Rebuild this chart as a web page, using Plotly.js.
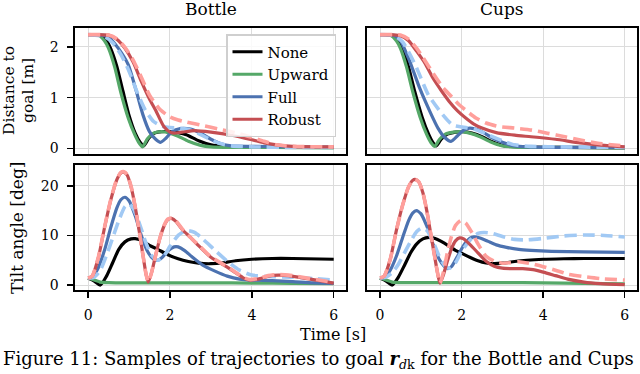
<!DOCTYPE html>
<html>
<head>
<meta charset="utf-8">
<script src="https://cdn.plot.ly/plotly-3.0.1.min.js"></script>
<style>
html,body{margin:0;padding:0;background:#fff;overflow:hidden;}
#chart{width:640px;height:374px;}
</style>
</head>
<body>
<div id="chart"></div>
<script>
// ---------- labels ----------
const seriesNames = ["None", "Upward", "Full", "Robust"];
const panelTitles = ["Bottle", "Cups"];
const xTickVals = [0, 2, 4, 6];
const distTickVals = [0, 1, 2];
const tiltTickVals = [0, 10, 20];

// ---------- Bottle: distance to goal [m] ----------
const bdNoneT = [0,0.3,0.45,0.55,0.7,0.85,1.0,1.15,1.27,1.36,1.48,1.62,1.8,2.0,2.2,2.4,2.7,3.0,3.3,4,6];
const bdNoneY = [2.24,2.23,2.12,1.97,1.62,1.13,0.65,0.3,0.12,0.05,0.2,0.3,0.33,0.33,0.31,0.27,0.15,0.07,0.04,0.03,0.02];
const bdUpT = [0,0.25,0.4,0.5,0.65,0.8,0.98,1.14,1.25,1.33,1.45,1.6,1.8,2.0,2.2,2.45,2.75,3.0,3.5,4.5,6];
const bdUpY = [2.24,2.23,2.12,1.97,1.6,1.1,0.6,0.27,0.1,0.03,0.19,0.3,0.33,0.3,0.24,0.14,0.06,0.03,0.02,0.02,0.01];
const bdFullT = [0,0.4,0.55,0.74,0.98,1.18,1.34,1.5,1.65,1.77,1.9,2.05,2.25,2.5,2.75,3.0,3.25,3.5,4,5,6];
const bdFullY = [2.24,2.22,2.15,1.97,1.65,1.12,0.66,0.33,0.18,0.12,0.2,0.33,0.39,0.38,0.3,0.18,0.09,0.05,0.04,0.03,0.02];
const bdFullDashT = [0,0.4,0.6,0.8,1.0,1.2,1.4,1.6,1.8,2.0,2.2,2.4,2.6,2.8,3.0,3.2,3.5,4,5,6];
const bdFullDashY = [2.24,2.2,2.08,1.85,1.52,1.1,0.75,0.53,0.44,0.41,0.4,0.38,0.33,0.25,0.17,0.1,0.05,0.03,0.02,0.02];
const bdRobT = [0,0.5,0.7,0.9,1.1,1.3,1.5,1.65,1.85,2.0,2.1,2.3,2.6,3.0,3.5,4.0,4.3,4.6,5,6];
const bdRobY = [2.24,2.23,2.15,1.97,1.7,1.32,0.97,0.75,0.43,0.32,0.3,0.32,0.35,0.32,0.26,0.17,0.11,0.07,0.04,0.03];
const bdRobDashT = [0,0.5,0.7,0.9,1.1,1.3,1.5,1.75,2.0,2.2,2.4,2.8,3.2,3.6,4.0,4.3,4.6,5,6];
const bdRobDashY = [2.24,2.23,2.16,1.99,1.74,1.4,1.05,0.77,0.62,0.56,0.52,0.45,0.38,0.31,0.22,0.14,0.07,0.04,0.03];

// ---------- Cups: distance to goal [m] ----------
const cdNoneT = [0,0.3,0.45,0.55,0.7,0.85,1.03,1.19,1.3,1.38,1.5,1.65,1.85,2.05,2.25,2.5,2.75,3.05,3.5,4.5,6];
const cdNoneY = [2.24,2.23,2.12,1.97,1.6,1.12,0.62,0.28,0.11,0.05,0.18,0.28,0.32,0.33,0.3,0.23,0.13,0.05,0.03,0.02,0.01];
const cdUpT = [0,0.25,0.4,0.5,0.65,0.8,0.98,1.14,1.25,1.34,1.46,1.6,1.8,2.0,2.2,2.45,2.7,3.0,3.5,4.5,6];
const cdUpY = [2.24,2.23,2.12,1.97,1.6,1.12,0.62,0.28,0.11,0.04,0.18,0.28,0.32,0.33,0.3,0.23,0.13,0.05,0.02,0.02,0.01];
const cdFullT = [0,0.35,0.5,0.73,0.97,1.22,1.42,1.58,1.74,1.9,2.05,2.2,2.45,2.7,3.0,3.3,3.6,4.5,6];
const cdFullY = [2.24,2.22,2.12,1.71,1.19,0.73,0.4,0.22,0.14,0.25,0.36,0.4,0.35,0.23,0.12,0.05,0.03,0.02,0.02];
const cdFullDashT = [0,0.35,0.55,0.7,0.9,1.18,1.54,1.78,2.02,2.3,2.67,3.0,3.3,3.7,4.5,6];
const cdFullDashY = [2.24,2.22,2.1,1.9,1.58,1.06,0.66,0.46,0.42,0.38,0.26,0.15,0.07,0.04,0.03,0.02];
const cdRobT = [0,0.5,0.7,0.9,1.1,1.3,1.5,1.7,1.9,2.1,2.3,2.5,2.85,3.3,3.7,4.3,4.9,5.5,6];
const cdRobY = [2.24,2.22,2.12,1.91,1.68,1.38,1.14,0.92,0.74,0.6,0.48,0.4,0.31,0.26,0.23,0.18,0.11,0.06,0.03];
const cdRobDashT = [0,0.5,0.7,0.9,1.06,1.3,1.55,1.75,1.94,2.15,2.35,2.6,2.92,3.3,3.72,4.1,4.53,5.0,5.34,6];
const cdRobDashY = [2.24,2.23,2.15,1.97,1.78,1.48,1.19,1.02,0.86,0.72,0.6,0.5,0.43,0.4,0.36,0.3,0.23,0.15,0.1,0.05];

// ---------- Bottle: tilt angle [deg] ----------
const btNoneT = [0,0.15,0.3,0.45,0.6,0.75,0.9,1.05,1.15,1.3,1.5,1.7,1.95,2.2,2.45,2.7,3.0,3.3,3.6,4.0,4.5,5,6];
const btNoneY = [1.4,0.8,0.0,1.8,4.5,7.2,8.7,9.3,9.35,9.0,8.0,7.2,6.1,5.3,4.75,4.4,4.3,4.5,4.9,5.2,5.35,5.35,5.2];
const btUpT = [0,0.15,0.3,0.5,1,2,3,4,5,6];
const btUpY = [1.4,1.0,0.6,0.5,0.45,0.45,0.45,0.4,0.35,0.3];
const btFullT = [0,0.1,0.25,0.4,0.55,0.7,0.8,0.9,1.0,1.15,1.3,1.45,1.6,1.7,1.8,1.95,2.1,2.2,2.35,2.55,2.8,3.1,3.4,3.7,4.0,4.5,5,5.5,6];
const btFullY = [1.4,1.6,3.5,7.0,11.5,15.5,17.2,17.7,17.0,14.0,10.0,6.8,5.2,5.0,5.5,6.9,7.7,7.7,7.0,5.6,4.0,2.8,1.8,1.2,1.0,0.9,0.7,0.45,0.35];
const btFullDashT = [0,0.15,0.3,0.45,0.6,0.75,0.9,1.0,1.1,1.25,1.4,1.55,1.7,1.85,2.0,2.2,2.4,2.6,2.8,3.1,3.4,3.7,4.0,4.5,5,5.5,6];
const btFullDashY = [1.4,1.6,3.0,6.0,9.5,13.0,15.8,16.3,15.5,12.5,8.8,6.0,5.0,5.8,7.8,10.0,11.0,10.6,9.3,7.0,4.8,3.0,2.0,1.7,1.6,1.3,1.0];
const btRobT = [0,0.1,0.25,0.4,0.55,0.7,0.8,0.86,0.95,1.05,1.15,1.25,1.35,1.42,1.47,1.55,1.65,1.75,1.85,1.95,2.05,2.15,2.3,2.5,2.73,3.0,3.38,3.6,3.8,3.95,4.2,4.4,4.65,4.9,5.2,5.5,6];
const btRobY = [1.4,1.8,5.5,11.5,17.0,21.2,22.6,22.8,22.2,19.8,15.8,10.8,5.5,2.0,0.6,2.5,6.0,9.3,11.8,13.2,13.4,12.8,11.2,9.6,7.7,5.6,3.7,2.5,1.4,1.0,1.3,1.8,2.0,1.9,1.5,1.1,0.4];
const btRobDashT = [0,0.1,0.25,0.4,0.55,0.7,0.8,0.86,0.95,1.05,1.15,1.25,1.35,1.42,1.47,1.55,1.65,1.75,1.85,1.95,2.05,2.15,2.3,2.5,2.73,3.0,3.38,3.6,3.8,3.95,4.2,4.4,4.65,4.9,5.2,5.5,6];
const btRobDashY = [1.4,1.8,5.6,11.6,17.1,21.3,22.7,22.9,22.3,19.9,15.8,10.8,5.5,2.0,0.6,2.5,6.0,9.4,11.9,13.3,13.5,12.9,11.3,9.6,7.8,5.7,3.8,2.6,1.5,1.1,1.4,1.9,2.1,2.0,1.6,1.2,0.5];

// ---------- Cups: tilt angle [deg] ----------
const ctNoneT = [0,0.15,0.3,0.45,0.6,0.75,0.9,1.05,1.2,1.35,1.5,1.7,1.85,2.0,2.2,2.4,2.6,2.8,3.0,3.3,3.6,4.0,4.5,5,6];
const ctNoneY = [1.4,0.8,0.0,1.6,4.0,6.5,8.3,9.3,9.6,9.4,8.8,7.8,7.0,6.4,5.6,4.9,4.45,4.3,4.4,4.75,5.0,5.2,5.3,5.35,5.35];
const ctUpT = [0,0.15,0.3,0.5,1,2,3,4,5,6];
const ctUpY = [1.4,1.0,0.6,0.5,0.5,0.5,0.5,0.45,0.35,0.25];
const ctFullT = [0,0.1,0.25,0.4,0.55,0.7,0.8,0.89,1.0,1.15,1.3,1.45,1.57,1.66,1.75,1.9,2.05,2.2,2.3,2.45,2.65,2.85,3.1,3.4,3.7,4.2,5,6];
const ctFullY = [1.4,1.5,3.0,5.8,9.5,13.0,14.5,15.0,14.4,11.8,8.2,5.2,3.8,3.3,3.7,5.8,8.0,9.4,9.7,9.5,8.8,8.1,7.6,7.2,7.0,6.8,6.7,6.6];
const ctFullDashT = [0,0.15,0.3,0.45,0.6,0.75,0.9,1.02,1.15,1.3,1.45,1.58,1.7,1.85,2.0,2.2,2.4,2.55,2.75,3.0,3.3,3.6,4.0,4.5,5.0,5.5,6];
const ctFullDashY = [1.4,1.6,2.5,4.2,6.5,8.8,10.8,11.5,11.0,8.8,5.8,4.0,3.4,4.5,6.8,9.0,10.4,10.6,10.4,9.8,9.2,9.1,9.4,9.9,10.1,10.0,9.7];
const ctRobT = [0,0.1,0.25,0.4,0.55,0.7,0.8,0.86,0.95,1.05,1.15,1.25,1.35,1.42,1.47,1.55,1.65,1.75,1.85,1.95,2.05,2.2,2.4,2.6,2.8,3.0,3.25,3.5,3.75,4.0,4.3,4.6,5.0,5.4,6];
const ctRobY = [1.4,1.8,5.2,11.0,16.0,19.8,21.1,21.3,20.8,18.6,14.8,10.0,5.2,2.0,0.4,2.0,4.8,7.3,8.9,9.5,9.3,8.2,6.5,4.8,3.8,3.4,3.3,3.3,3.1,2.6,1.9,1.2,0.6,0.3,0.1];
const ctRobDashT = [0,0.1,0.25,0.4,0.55,0.7,0.8,0.86,0.95,1.05,1.15,1.25,1.35,1.42,1.47,1.55,1.65,1.75,1.85,1.98,2.1,2.25,2.4,2.6,2.8,3.0,3.2,3.4,3.7,4.0,4.3,4.6,5.0,5.4,6];
const ctRobDashY = [1.4,1.8,5.2,11.0,16.0,19.8,21.1,21.3,20.8,18.6,14.8,10.0,5.2,2.0,0.4,2.5,6.5,9.8,12.0,13.0,12.5,10.6,8.3,5.8,4.8,4.4,4.5,4.7,4.3,3.7,3.0,2.2,1.7,1.3,1.0];

// ---------- styling ----------
const FONT = "DejaVu Serif";
const cNone = "#000000", cUp = "#55a868", cFull = "#4c72b0", cRob = "#c44e52";
const cFullLight = "#a1c9f4", cRobLight = "#ff9f9b";
const LW = 3.2, DLW = 3.6, DASH = "12px,6px";

function solid(x, y, color, xa, ya, name, show) {
  return {type: "scatter", mode: "lines", x: x, y: y, xaxis: xa, yaxis: ya,
    name: name, showlegend: show, legendgroup: name,
    line: {color: color, width: LW, shape: "spline", smoothing: 0.6}, hoverinfo: "skip"};
}
function dashed(x, y, color, xa, ya) {
  return {type: "scatter", mode: "lines", x: x, y: y, xaxis: xa, yaxis: ya,
    showlegend: false,
    line: {color: color, width: DLW, dash: DASH, shape: "spline", smoothing: 0.6}, hoverinfo: "skip"};
}
function panel(xa, ya, d, legend) {
  return [
    solid(d[0], d[1], cNone, xa, ya, seriesNames[0], legend),
    solid(d[2], d[3], cUp, xa, ya, seriesNames[1], legend),
    solid(d[4], d[5], cFull, xa, ya, seriesNames[2], legend),
    dashed(d[6], d[7], cFullLight, xa, ya),
    solid(d[8], d[9], cRob, xa, ya, seriesNames[3], legend),
    dashed(d[10], d[11], cRobLight, xa, ya)
  ];
}

const data = [].concat(
  panel("x", "y", [bdNoneT, bdNoneY, bdUpT, bdUpY, bdFullT, bdFullY, bdFullDashT, bdFullDashY, bdRobT, bdRobY, bdRobDashT, bdRobDashY], true),
  panel("x2", "y2", [cdNoneT, cdNoneY, cdUpT, cdUpY, cdFullT, cdFullY, cdFullDashT, cdFullDashY, cdRobT, cdRobY, cdRobDashT, cdRobDashY], false),
  panel("x3", "y3", [btNoneT, btNoneY, btUpT, btUpY, btFullT, btFullY, btFullDashT, btFullDashY, btRobT, btRobY, btRobDashT, btRobDashY], false),
  panel("x4", "y4", [ctNoneT, ctNoneY, ctUpT, ctUpY, ctFullT, ctFullY, ctFullDashT, ctFullDashY, ctRobT, ctRobY, ctRobDashT, ctRobDashY], false)
);

const W = 640, H = 374;
const colL = [75 / W, 346 / W], colR = [367 / W, 637 / W];
const rowTop = [1 - 154 / H, 1 - 28 / H], rowBot = [1 - 290 / H, 1 - 165 / H];
const XR = [-0.32, 6.3], DR = [-0.11, 2.37], TR = [-1.0, 24.2];
const GRID = "#dcdcdc";

function xax(domain, anchor, labels) {
  return {domain: domain, anchor: anchor, range: XR, tickvals: xTickVals,
    showticklabels: labels, ticks: labels ? "outside" : "", ticklen: 6, tickwidth: 1.4, tickcolor: "#000",
    ticklabelstandoff: 6,
    showgrid: true, gridcolor: GRID, gridwidth: 1, zeroline: false,
    showline: true, mirror: true, linecolor: "#000", linewidth: 1.6,
    tickfont: {family: FONT, size: 14, color: "#000"}, fixedrange: true};
}
function yax(domain, anchor, range, vals, labels) {
  return {domain: domain, anchor: anchor, range: range, tickvals: vals,
    showticklabels: labels, ticks: labels ? "outside" : "", ticklen: 6, tickwidth: 1.4, tickcolor: "#000",
    ticklabelstandoff: 6,
    showgrid: true, gridcolor: GRID, gridwidth: 1, zeroline: false,
    showline: true, mirror: true, linecolor: "#000", linewidth: 1.6,
    tickfont: {family: FONT, size: 14, color: "#000"}, fixedrange: true};
}

function note(text, xpx, ypx, size, extra) {
  return Object.assign({text: text, xref: "paper", yref: "paper", x: xpx / W, y: 1 - ypx / H,
    showarrow: false, xanchor: "center", yanchor: "middle", font: {family: FONT, size: size, color: "#000"}}, extra || {});
}

const layout = {
  width: W, height: H,
  margin: {l: 0, r: 0, t: 0, b: 0},
  paper_bgcolor: "#fff", plot_bgcolor: "#fff",
  font: {family: FONT, color: "#000"},
  showlegend: true,
  legend: {x: 226 / W, y: 1 - 34 / H, xanchor: "left", yanchor: "top",
    bgcolor: "rgba(255,255,255,0.85)", bordercolor: "#cfcfcf", borderwidth: 1.5,
    font: {family: FONT, size: 15, color: "#000"}, tracegroupgap: 0, itemwidth: 30},
  xaxis: xax(colL, "y", false),
  yaxis: yax(rowTop, "x", DR, distTickVals, true),
  xaxis2: xax(colR, "y2", false),
  yaxis2: yax(rowTop, "x2", DR, distTickVals, false),
  xaxis3: xax(colL, "y3", true),
  yaxis3: yax(rowBot, "x3", TR, tiltTickVals, true),
  xaxis4: xax(colR, "y4", true),
  yaxis4: yax(rowBot, "x4", TR, tiltTickVals, false),
  annotations: [
    note(panelTitles[0], (75 + 346) / 2, 9, 17),
    note(panelTitles[1], (367 + 637) / 2, 9, 17),
    note("Distance to", 9, 91, 15.5, {textangle: -90}),
    note("goal [m]", 28, 91, 15.5, {textangle: -90}),
    note("Tilt angle [deg]", 17, 228, 17, {textangle: -90}),
    note("Time [s]", 333, 334, 16),
    note("Figure 11: Samples of trajectories to goal <b><i>r</i></b><sub><i>d</i>k</sub> for the Bottle and Cups",
      1, 346, 18, {xanchor: "left", yanchor: "top", align: "left"})
  ]
};

Plotly.newPlot("chart", data, layout, {staticPlot: true, displayModeBar: false});
</script>
</body>
</html>
